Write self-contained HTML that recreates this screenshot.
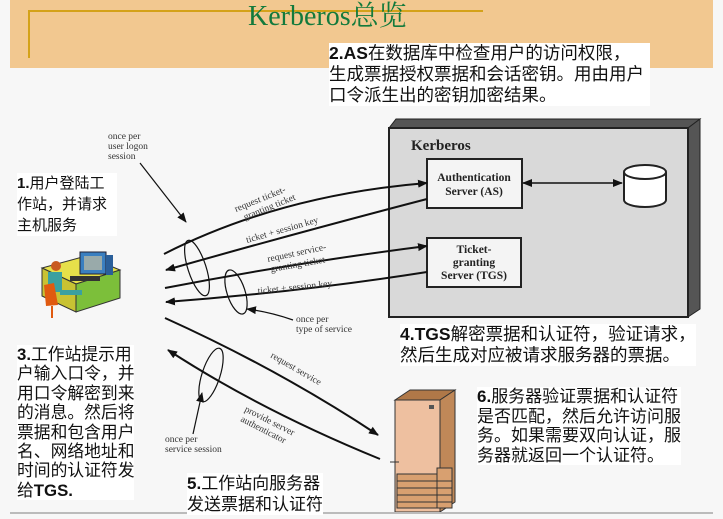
<!DOCTYPE html>
<html><head><meta charset="utf-8"><style>
html,body{margin:0;padding:0;}
body{width:723px;height:519px;position:relative;overflow:hidden;background:#f7f7f7;font-family:"Liberation Sans","Noto Sans CJK SC",sans-serif;}
.t{position:absolute;color:#111;font-size:16px;line-height:20px;background:#fff;white-space:nowrap;}
.t b{font-family:"Liberation Sans",sans-serif;}
</style></head><body>
<div style="position:absolute;left:10px;top:0;width:703px;height:68px;background:#f2c890"></div>
<div style="position:absolute;left:28px;top:10px;width:455px;height:2px;background:#d4a21a"></div>
<div style="position:absolute;left:28px;top:10px;width:2px;height:48px;background:#d4a21a"></div>
<div style="position:absolute;left:248px;top:1px;font-family:'Liberation Serif','Noto Serif CJK SC',serif;font-size:28px;color:#137a3c;line-height:32px">Kerberos总览</div>

<svg width="723" height="519" style="position:absolute;left:0;top:0" xmlns="http://www.w3.org/2000/svg">
<defs><marker id="a" markerWidth="10" markerHeight="8" refX="9" refY="4" orient="auto" markerUnits="userSpaceOnUse"><path d="M0,0L10,4L0,8z" fill="#111"/></marker>
<marker id="s" markerWidth="10" markerHeight="8" refX="1" refY="4" orient="auto" markerUnits="userSpaceOnUse"><path d="M10,0L0,4L10,8z" fill="#111"/></marker></defs>
<polygon points="389,128 396,119 700,119 688,128" fill="#555" stroke="#222"/>
<polygon points="688,128 700,119 700,309 688,317" fill="#555" stroke="#222"/>
<rect x="389" y="128" width="299" height="189" fill="#d9d9d9" stroke="#222" stroke-width="2"/>
<text x="411" y="150" font-family="Liberation Serif" font-weight="bold" font-size="15" fill="#222">Kerberos</text>
<rect x="427" y="159" width="95" height="49" fill="#f4f4f4" stroke="#222" stroke-width="2"/>
<text x="474" y="181" text-anchor="middle" font-family="Liberation Serif" font-weight="bold" font-size="11.5" fill="#222">Authentication</text>
<text x="474" y="195" text-anchor="middle" font-family="Liberation Serif" font-weight="bold" font-size="11.5" fill="#222">Server (AS)</text>
<rect x="427" y="238" width="94" height="49" fill="#f4f4f4" stroke="#222" stroke-width="2"/>
<text x="474" y="253" text-anchor="middle" font-family="Liberation Serif" font-weight="bold" font-size="11.5" fill="#222">Ticket-</text>
<text x="474" y="266" text-anchor="middle" font-family="Liberation Serif" font-weight="bold" font-size="11.5" fill="#222">granting</text>
<text x="474" y="279" text-anchor="middle" font-family="Liberation Serif" font-weight="bold" font-size="11.5" fill="#222">Server (TGS)</text>
<path d="M624,172 v28 a21,7 0 0 0 42,0 v-28" fill="#fff" stroke="#222" stroke-width="2"/>
<ellipse cx="645" cy="172" rx="21" ry="7" fill="#fff" stroke="#222" stroke-width="2"/>
<line x1="523" y1="183" x2="622" y2="183" stroke="#111" stroke-width="1.6" marker-start="url(#s)" marker-end="url(#a)"/>
<g stroke="#111" stroke-width="2" fill="none">
<path d="M164,254 Q280,195 427,183" marker-end="url(#a)"/>
<path d="M427,199 Q300,232 166,270" marker-end="url(#a)"/>
<path d="M165,288 Q300,262 427,246" marker-end="url(#a)"/>
<path d="M427,272 Q300,292 166,302" marker-end="url(#a)"/>
<path d="M165,318 Q280,370 378,435" marker-end="url(#a)"/>
<path d="M380,459 Q260,410 168,350" marker-end="url(#a)"/>
</g>
<g stroke="#111" stroke-width="1.2" fill="none">
<ellipse cx="197" cy="268" rx="9" ry="29" transform="rotate(-18 197 268)"/>
<ellipse cx="236" cy="292" rx="9" ry="23" transform="rotate(-18 236 292)"/>
<ellipse cx="211" cy="375" rx="9" ry="28" transform="rotate(18 211 375)"/>
<path d="M140,163 L186,222" marker-end="url(#a)"/>
<path d="M293,320 Q270,312 247,309" marker-end="url(#a)"/>
<path d="M193,434 L202,393" marker-end="url(#a)"/>
</g>
<g font-family="Liberation Serif" font-size="9.5" fill="#333">
<text x="108" y="139">once per</text><text x="108" y="149">user logon</text><text x="108" y="159">session</text>
<text x="296" y="322">once per</text><text x="296" y="332">type of service</text>
<text x="165" y="442">once per</text><text x="165" y="452">service session</text>
<text transform="translate(236,212) rotate(-22)">request ticket-</text>
<text transform="translate(245,220) rotate(-22)">granting ticket</text>
<text transform="translate(247,243) rotate(-16)">ticket + session key</text>
<text transform="translate(268,262) rotate(-12)">request service-</text>
<text transform="translate(271,272) rotate(-10)">granting ticket</text>
<text transform="translate(258,294) rotate(-6)">ticket + session key</text>
<text transform="translate(270,357) rotate(30)">request service</text>
<text transform="translate(244,411) rotate(27)">provide server</text>
<text transform="translate(240,421) rotate(27)">authenticator</text>
</g>
<!-- workstation -->
<polygon points="42,268 86,256 120,270 76,284" fill="#e6e04a" stroke="#333"/>
<polygon points="42,268 76,284 76,312 42,296" fill="#c8c233" stroke="#333"/>
<polygon points="76,284 120,270 120,298 76,312" fill="#7cbf3a" stroke="#333"/>
<rect x="80" y="252" width="26" height="22" fill="#3a7fc0" stroke="#223"/>
<rect x="84" y="256" width="18" height="14" fill="#9aa"/>
<rect x="106" y="255" width="7" height="20" fill="#2a5f9a"/>
<rect x="70" y="276" width="30" height="5" fill="#333"/>
<circle cx="56" cy="266" r="5" fill="#c85a20"/>
<rect x="48" y="272" width="14" height="20" fill="#3aa0a0"/>
<polygon points="44,285 54,283 58,305 46,306" fill="#e05a10"/>
<line x1="52" y1="306" x2="52" y2="318" stroke="#e05a10" stroke-width="2"/>
<rect x="60" y="290" width="22" height="5" fill="#3aa0a0"/>
<!-- server -->
<polygon points="395,400 410,390 455,390 440,400" fill="#b07848" stroke="#333"/>
<polygon points="440,400 455,390 455,502 440,512" fill="#c08858" stroke="#333"/>
<rect x="395" y="400" width="45" height="112" fill="#eec0a0" stroke="#333"/>
<rect x="429" y="405" width="5" height="4" fill="#555"/>
<line x1="390" y1="462" x2="399" y2="462" stroke="#333"/>
<g stroke="#333" fill="#d8a070"><rect x="437" y="468" width="15" height="40"/><rect x="397" y="474" width="40" height="34"/></g>
<g stroke="#333"><line x1="397" y1="481" x2="452" y2="481"/><line x1="397" y1="488" x2="452" y2="488"/><line x1="397" y1="495" x2="452" y2="495"/><line x1="397" y1="502" x2="452" y2="502"/></g>
<line x1="10" y1="513" x2="713" y2="513" stroke="#bbb" stroke-width="2"/>
</svg>

<div class="t" style="left:329px;top:43px;line-height:21px;font-size:17.5px;padding-right:6px"><b>2.AS</b>在数据库中检查用户的访问权限，<br>生成票据授权票据和会话密钥。用由用户<br>口令派生出的密钥加密结果。</div>
<div class="t" style="left:17px;top:173px;line-height:21px;font-size:15px;padding-right:10px"><b>1.</b>用户登陆工<br>作站，并请求<br>主机服务</div>
<div class="t" style="left:17px;top:345px;line-height:19.4px;font-size:16.8px"><b>3.</b>工作站提示用<br>户输入口令，并<br>用口令解密到来<br>的消息。然后将<br>票据和包含用户<br>名、网络地址和<br>时间的认证符发<br>给<b>TGS.</b></div>
<div class="t" style="left:400px;top:324px;line-height:21px;font-size:17.5px"><b>4.TGS</b>解密票据和认证符，验证请求，<br>然后生成对应被请求服务器的票据。</div>
<div class="t" style="left:477px;top:387px;line-height:19.5px;font-size:17px"><b>6.</b>服务器验证票据和认证符<br>是否匹配，然后允许访问服<br>务。如果需要双向认证，服<br>务器就返回一个认证符。</div>
<div class="t" style="left:187px;top:473px;line-height:21px;font-size:17px"><b>5.</b>工作站向服务器<br>发送票据和认证符</div>
</body></html>
